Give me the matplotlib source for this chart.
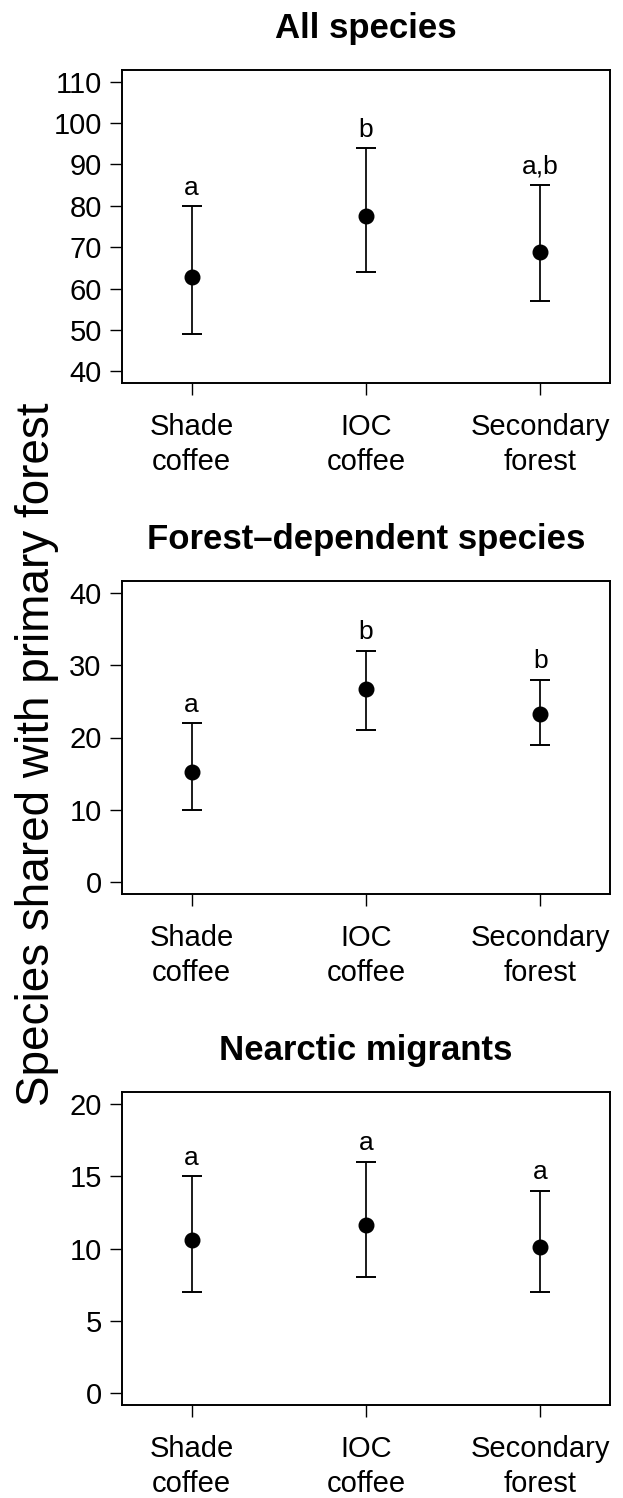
import matplotlib
matplotlib.use("Agg")
import matplotlib.pyplot as plt

plt.rcParams['font.family'] = ['Liberation Sans', 'DejaVu Sans']

# ---------------------------------------------
# DATA
# ---------------------------------------------
habitats = ["Shade\ncoffee", "IOC\ncoffee", "Secondary\nforest"]

titles = ["All species", "Forest\u2013dependent species", "Nearctic migrants"]

all_mean = [62.7, 77.6, 68.8]
all_low = [49, 64, 57]
all_high = [80, 94, 85]
all_letters = ["a", "b", "a,b"]

forest_mean = [15.2, 26.7, 23.3]
forest_low = [10, 21, 19]
forest_high = [22, 32, 28]
forest_letters = ["a", "b", "b"]

migr_mean = [10.6, 11.6, 10.1]
migr_low = [7, 8, 7]
migr_high = [15, 16, 14]
migr_letters = ["a", "a", "a"]

yticks_all = [40, 50, 60, 70, 80, 90, 100, 110]
yticks_forest = [0, 10, 20, 30, 40]
yticks_migr = [0, 5, 10, 15, 20]

panels = [
    (all_mean, all_low, all_high, all_letters, yticks_all),
    (forest_mean, forest_low, forest_high, forest_letters, yticks_forest),
    (migr_mean, migr_low, migr_high, migr_letters, yticks_migr),
]

# ---------------------------------------------
# PLOT
# ---------------------------------------------
W, H = 623, 1498
fig = plt.figure(figsize=(W / 100, H / 100), dpi=100)

box_left, box_right = 122, 610
box_tops = [70, 581, 1092]
box_h = 313

x = [1, 2, 3]

for i, (mean, low, high, letters, yt) in enumerate(panels):
    top = box_tops[i]
    ax = fig.add_axes([box_left / W, 1 - (top + box_h) / H,
                       (box_right - box_left) / W, box_h / H])
    yerr = [[m - l for m, l in zip(mean, low)],
            [h - m for m, h in zip(mean, high)]]
    ax.errorbar(x, mean, yerr=yerr, fmt="o", color="black", ms=10.5,
                elinewidth=1.25, capsize=7, capthick=1.4)
    for xi, hi, lab in zip(x, high, letters):
        ax.annotate(lab, xy=(xi, hi), xytext=(0, 8), textcoords="offset points",
                    ha="center", va="baseline", fontsize=19)
    rng = yt[-1] - yt[0]
    ax.set_ylim(yt[0] - 0.04 * rng, yt[-1] + 0.04 * rng)
    ax.set_xlim(0.6, 3.4)
    ax.set_yticks(yt)
    ax.set_xticks(x)
    ax.set_xticklabels(habitats, linespacing=1.32)
    ax.tick_params(axis="both", direction="out", length=8.6, width=1.0,
                   labelsize=21)
    ax.tick_params(axis="x", pad=13)
    ax.tick_params(axis="y", pad=6)
    for sp in ax.spines.values():
        sp.set_linewidth(1.4)
    ax.set_title(titles[i], fontsize=25, fontweight="bold", pad=23)

fig.text(37 / W, 0.4967, "Species shared with primary forest", rotation=90,
         ha="center", va="center", fontsize=33)

fig.savefig("out.png", dpi=100)
